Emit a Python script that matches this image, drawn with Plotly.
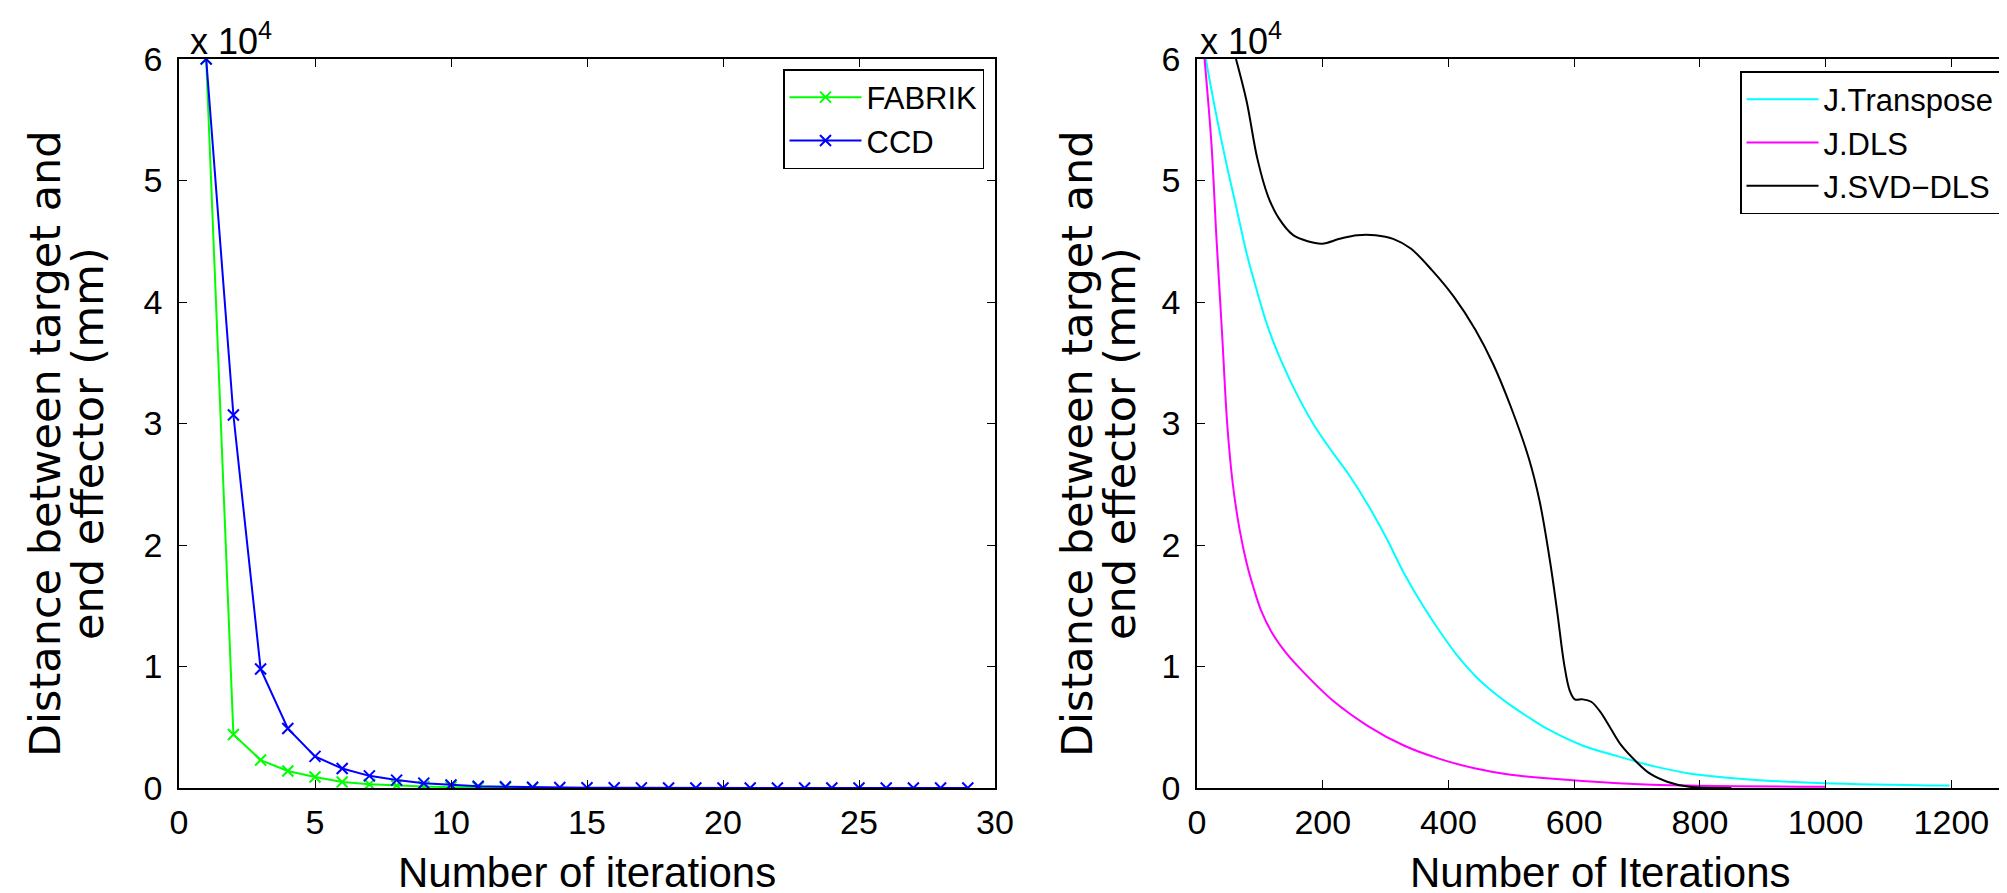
import plotly.graph_objects as go

# ---------------- data ----------------
fabrik_x = list(range(1, 14))
fabrik_y = [60000, 4400, 2300, 1400, 900, 500, 300, 200, 120, 70, 40, 20, 10]

ccd_x = list(range(1, 30))
ccd_y = [60000, 30700, 9800, 4900, 2600, 1600, 1000, 650, 400, 250, 150, 100, 60, 40,
         25, 15, 10, 5, 3, 2, 1, 0, 0, 0, 0, 0, 0, 0, 0]

jt_x = [14, 28, 45, 62, 79, 96, 113, 136, 159, 187, 216, 244, 272, 301, 329, 357, 386,
        414, 443, 471, 499, 528, 556, 613, 670, 726, 783, 878, 997, 1197]
jt_y = [60000, 56100, 51800, 47900, 44000, 40800, 37900, 34900, 32400, 29800, 27600,
        25600, 23300, 20600, 17700, 15200, 12900, 10900, 9200, 7900, 6800, 5800, 4900,
        3500, 2600, 1800, 1200, 700, 400, 200]

jdls_x = [12, 23, 31, 40, 48, 57, 68, 79, 91, 102, 119, 142, 170, 216, 272, 329, 386,
          443, 499, 556, 670, 783, 1000]
jdls_y = [60000, 53000, 45200, 37300, 30000, 25000, 21200, 18500, 16300, 14600, 12800,
          11100, 9500, 7200, 5100, 3500, 2400, 1600, 1100, 800, 400, 200, 100]

jsvd_x = [62, 79, 96, 113, 130, 153, 176, 199, 227, 255, 284, 312, 340, 374, 409, 443,
          471, 499, 528, 545, 562, 573, 584, 593, 601, 613, 627, 641, 658, 675, 698,
          720, 749, 783, 850]
jsvd_y = [60000, 56500, 51800, 48700, 46900, 45500, 45000, 44800, 45200, 45500, 45500,
          45200, 44400, 42600, 40400, 37700, 34900, 31400, 27100, 23600, 18500, 14500,
          10200, 8000, 7300, 7300, 7100, 6300, 4900, 3500, 2200, 1200, 500, 100, 0]

y_ticks = [0, 10000, 20000, 30000, 40000, 50000, 60000]
y_tick_text = ["0", "1", "2", "3", "4", "5", "6"]
x1_ticks = [0, 5, 10, 15, 20, 25, 30]
x2_ticks = [0, 200, 400, 600, 800, 1000, 1200]

W, H = 2007, 893
SANS = "Liberation Sans, Arial, Helvetica, sans-serif"
TICKFONT = dict(family=SANS, size=34, color="black")
EXPFONT = dict(family=SANS, size=36, color="black")
LEGFONT = dict(family=SANS, size=31, color="black")
YTFONT = dict(family="DejaVu Sans, sans-serif", size=43, color="black")
XTFONT = dict(family=SANS, size=42, color="black")


def px(x):
    return x / W


def py(y):
    return (H - y) / H


fig = go.Figure()
fig.add_trace(go.Scatter(x=fabrik_x, y=fabrik_y, name="FABRIK", mode="lines+markers",
                         line=dict(color="#00ff00", width=2),
                         marker=dict(symbol="x-thin-open", size=11,
                                     line=dict(color="#00ff00", width=2)),
                         xaxis="x", yaxis="y", legend="legend"))
fig.add_trace(go.Scatter(x=ccd_x, y=ccd_y, name="CCD", mode="lines+markers",
                         line=dict(color="#0000ff", width=2),
                         marker=dict(symbol="x-thin-open", size=11,
                                     line=dict(color="#0000ff", width=2)),
                         xaxis="x", yaxis="y", legend="legend"))
fig.add_trace(go.Scatter(x=jt_x, y=jt_y, name="J.Transpose", mode="lines",
                         line=dict(color="#00ffff", width=2, shape="spline", smoothing=1.0),
                         xaxis="x2", yaxis="y2", legend="legend2"))
fig.add_trace(go.Scatter(x=jdls_x, y=jdls_y, name="J.DLS", mode="lines",
                         line=dict(color="#ff00ff", width=2, shape="spline", smoothing=0.9),
                         xaxis="x2", yaxis="y2", legend="legend2"))
fig.add_trace(go.Scatter(x=jsvd_x, y=jsvd_y, name="J.SVD\u2212DLS", mode="lines",
                         line=dict(color="#000000", width=2, shape="spline", smoothing=1.0),
                         xaxis="x2", yaxis="y2", legend="legend2"))

ydom = [py(780), py(51)]
axis_common = dict(showgrid=False, zeroline=False, showline=True, linecolor="black",
                   linewidth=1.5, mirror="ticks", ticks="inside", ticklen=8,
                   tickwidth=1.3, tickcolor="black", tickfont=TICKFONT,
                   automargin=False)

fig.update_layout(
    template="none",
    width=W, height=H, autosize=False,
    margin=dict(l=0, r=0, t=0, b=0, pad=0),
    paper_bgcolor="white", plot_bgcolor="white",
    xaxis=dict(domain=[px(171), px(987)], range=[0, 30], tickvals=x1_ticks,
               anchor="y", ticklabelstandoff=3, **axis_common),
    yaxis=dict(domain=ydom, range=[0, 60000], tickvals=y_ticks, ticktext=y_tick_text,
               anchor="x", ticklabelstandoff=8, **axis_common),
    xaxis2=dict(domain=[px(1189), px(2000)], range=[0, 1290], tickvals=x2_ticks,
                anchor="y2", ticklabelstandoff=3, **axis_common),
    yaxis2=dict(domain=ydom, range=[0, 60000], tickvals=y_ticks, ticktext=y_tick_text,
                anchor="x2", ticklabelstandoff=8, **axis_common),
    legend=dict(x=px(976), xanchor="right", y=py(61), yanchor="top",
                bgcolor="white", bordercolor="black", borderwidth=1.5,
                font=LEGFONT, itemwidth=72, tracegroupgap=0),
    legend2=dict(x=px(1992), xanchor="right", y=py(63), yanchor="top",
                 bgcolor="white", bordercolor="black", borderwidth=1.5,
                 font=LEGFONT, itemwidth=72, tracegroupgap=0),
    showlegend=True,
)

ytitle_lines = ["Distance between target and", "end effector (mm)"]
for xs in ((37, 80), (1069, 1112)):
    for xc, txt in zip(xs, ytitle_lines):
        fig.add_annotation(text=txt, x=px(xc), y=py(436),
                           xref="paper", yref="paper", xanchor="center",
                           yanchor="middle", textangle=-90, showarrow=False,
                           font=YTFONT)

for xc, txt in ((579, "Number of iterations"), (1592, "Number of Iterations")):
    fig.add_annotation(text=txt, x=px(xc), y=py(839), xref="paper", yref="paper",
                       xanchor="center", yanchor="top", showarrow=False, font=XTFONT)

for xl in (180, 1190):
    fig.add_annotation(text="x 10<sup>4</sup>", x=px(xl), y=py(56),
                       xref="paper", yref="paper", xanchor="left", yanchor="bottom",
                       showarrow=False, font=EXPFONT)

fig.write_html("out.html")
